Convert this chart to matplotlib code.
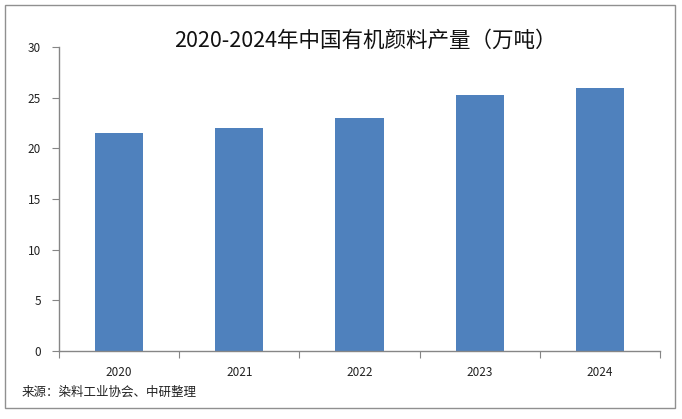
import matplotlib
matplotlib.use("Agg")
import matplotlib.pyplot as plt
from matplotlib.patches import Rectangle
import numpy as np

plt.rcParams['font.family'] = ['Noto Sans CJK SC', 'DejaVu Sans']

years = ["2020", "2021", "2022", "2023", "2024"]
output = [21.5, 22.0, 23.0, 25.3, 26.0]
yticks = [0, 5, 10, 15, 20, 25, 30]

title = "2020-2024年中国有机颜料产量（万吨）"
source = "来源：染料工业协会、中研整理"

fig = plt.figure(figsize=(6.82, 4.19), dpi=100)
ax = fig.add_axes([0.0865, 0.1623, 0.8812, 0.7255])

x = np.arange(len(years))
ax.bar(x, output, width=0.4, color="#4F81BD")

ax.set_xlim(-0.5, len(years) - 0.5)
ax.set_ylim(0, 30)
ax.set_yticks(yticks)
ax.set_yticklabels([str(t) for t in yticks], fontsize=8.5, color="#222222")

# x ticks sit on the category boundaries, labels in the middle
ax.set_xticks(np.arange(len(years) + 1) - 0.5)
ax.set_xticklabels([])
ax.set_xticks(x, minor=True)
ax.set_xticklabels(years, minor=True, fontsize=8.5, color="#222222")
ax.tick_params(axis="x", which="minor", length=0, pad=11)
ax.tick_params(axis="x", which="major", length=5, color="#868686", direction="out")
ax.tick_params(axis="y", length=5, color="#868686", direction="out", pad=8)

for s in ["top", "right"]:
    ax.spines[s].set_visible(False)
for s in ["left", "bottom"]:
    ax.spines[s].set_color("#868686")
    ax.spines[s].set_linewidth(1)

fig.text(0.535, 0.903, title, ha="center", va="center", fontsize=15.5, color="#111111")
fig.text(0.032, 0.063, source, ha="left", va="center", fontsize=9, color="#222222")

# outer frame of the picture
fig.patches.append(Rectangle((0.0073, 0.026), 0.9824, 0.962, transform=fig.transFigure,
                             fill=False, edgecolor="#909090", linewidth=1))

fig.savefig("out.png", dpi=100)
